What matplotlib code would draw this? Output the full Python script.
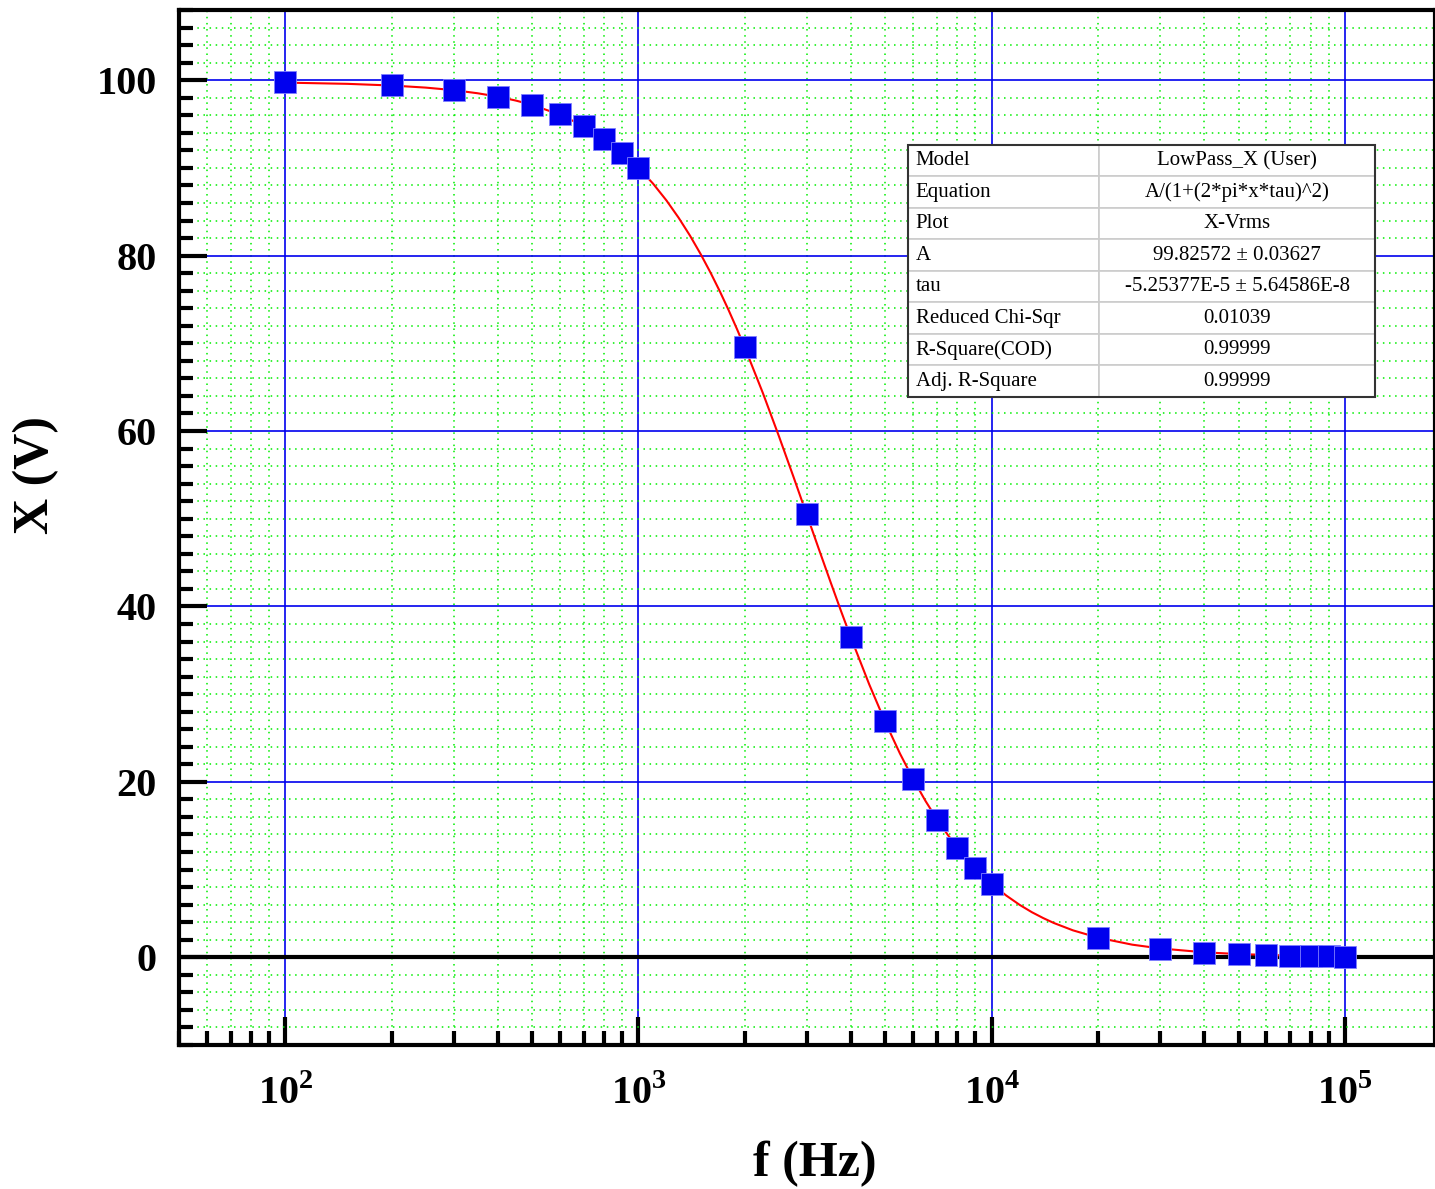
import numpy as np
import matplotlib
matplotlib.use("Agg")
import matplotlib.pyplot as plt
from matplotlib.ticker import FixedLocator, NullFormatter, LogLocator, MultipleLocator

plt.rcParams["font.family"] = ["Liberation Serif", "DejaVu Serif"]
plt.rcParams["mathtext.fontset"] = "custom"
plt.rcParams["mathtext.rm"] = "Liberation Serif:bold"
plt.rcParams["mathtext.bf"] = "Liberation Serif:bold"

# measured points (f in Hz, X in V)
freq = [100, 200, 300, 400, 500, 600, 700, 800, 900, 1000,
        2000, 3000, 4000, 5000, 6000, 7000, 8000, 9000, 10000,
        20000, 30000, 40000, 50000, 60000, 70000, 80000, 90000, 100000]
x_volt = [99.75, 99.4, 98.9, 98.1, 97.2, 96.1, 94.8, 93.3, 91.7, 90.0,
          69.6, 50.5, 36.5, 26.9, 20.3, 15.7, 12.5, 10.2, 8.3,
          2.2, 1.0, 0.5, 0.35, 0.25, 0.18, 0.14, 0.11, 0.08]

# fitted curve
fit_f = [100, 150, 200, 250, 300, 350, 400, 450, 500, 600, 700, 800, 900, 1000,
         1100, 1200, 1300, 1400, 1500, 1600, 1700, 1800, 1900, 2000, 2250, 2500,
         2750, 3000, 3250, 3500, 3750, 4000, 4500, 5000, 5500, 6000, 6500, 7000,
         7500, 8000, 8500, 9000, 9500, 10000, 11000, 12000, 13000, 14000, 15000,
         17000, 20000, 25000, 30000, 40000, 50000, 70000, 100000]
fit_x = [99.72, 99.58, 99.39, 99.15, 98.86, 98.51, 98.12, 97.67, 97.18, 96.06,
         94.77, 93.32, 91.73, 90.02, 88.20, 86.29, 84.30, 82.26, 80.17, 78.05,
         75.92, 73.78, 71.64, 69.52, 64.34, 59.38, 54.73, 50.40, 46.41, 42.76,
         39.42, 36.39, 31.13, 26.80, 23.23, 20.28, 17.81, 15.75, 14.00, 12.52,
         11.25, 10.16, 9.21, 8.39, 7.04, 5.98, 5.14, 4.47, 3.91, 3.07, 2.24,
         1.44, 1.01, 0.57, 0.37, 0.19, 0.09]

# fit report
rows = ["Model", "Equation", "Plot", "A", "tau",
        "Reduced Chi-Sqr", "R-Square(COD)", "Adj. R-Square"]
vals = ["LowPass_X (User)", "A/(1+(2*pi*x*tau)^2)", "X-Vrms",
        "99.82572 \u00b1 0.03627", "-5.25377E-5 \u00b1 5.64586E-8",
        "0.01039", "0.99999", "0.99999"]

fig = plt.figure(figsize=(14.35, 11.89), dpi=100)
ax = fig.add_axes([0.1247, 0.1211, 0.8753, 0.8705])

ax.set_xscale("log")
ax.set_xlim(50, 1.8e5)
ax.set_ylim(-10, 108)

# grids
ax.xaxis.set_major_locator(FixedLocator([1e2, 1e3, 1e4, 1e5]))
ax.xaxis.set_minor_locator(LogLocator(base=10, subs=np.arange(2, 10)))
ax.xaxis.set_minor_formatter(NullFormatter())
ax.yaxis.set_major_locator(MultipleLocator(20))
ax.yaxis.set_minor_locator(MultipleLocator(2))
ax.grid(which="minor", color="#00ee00", linestyle=(0, (1, 3)), linewidth=1.1)
ax.grid(which="major", color="#0000ee", linestyle="-", linewidth=1.2)
ax.set_axisbelow(True)

ax.axhline(0, color="black", linewidth=3, zorder=2)

ax.plot(fit_f, fit_x, color="red", linewidth=1.5, zorder=3)
ax.plot(freq, x_volt, linestyle="none", marker="s", markersize=16,
        markerfacecolor="#0000ee", markeredgecolor="#8080ff",
        markeredgewidth=0.6, zorder=4)

ax.set_xticklabels(["$10^{2}$", "$10^{3}$", "$10^{4}$", "$10^{5}$"])
ax.tick_params(axis="both", which="major", direction="in", length=20, width=3,
               labelsize=29)
ax.tick_params(axis="y", which="major", pad=16)
ax.tick_params(axis="x", which="major", pad=22)
ax.tick_params(axis="both", which="minor", direction="in", length=10, width=3)
ax.tick_params(top=False, right=False, which="both")
for lab in ax.get_yticklabels():
    lab.set_fontweight("bold")

for side in ["left", "bottom", "top", "right"]:
    ax.spines[side].set_linewidth(3)

ax.set_xlabel("f (Hz)", fontsize=36, fontweight="bold")
ax.set_ylabel("X (V)", fontsize=36, fontweight="bold")
ax.xaxis.set_label_coords(0.506, -0.093)
ax.yaxis.set_label_coords(-0.095, 0.551)

tbl = ax.table(cellText=[[r, v] for r, v in zip(rows, vals)],
               colWidths=[0.41, 0.59], cellLoc="center",
               bbox=[0.5804, 0.6261, 0.3718, 0.2435], zorder=5)
tbl.auto_set_font_size(False)
tbl.set_fontsize(15)
for (r, c), cell in tbl.get_celld().items():
    cell.set_edgecolor("#cccccc")
    cell.set_linewidth(1.2)
    cell.set_facecolor("white")
    if c == 0:
        cell.get_text().set_ha("left")
        cell.PAD = 0.04

# outer frame of the table
ax.add_patch(plt.Rectangle((0.5804, 0.6261), 0.3718, 0.2435, transform=ax.transAxes,
                           fill=False, edgecolor="#333333", linewidth=1.5, zorder=6))

fig.savefig("out.png", dpi=100)
